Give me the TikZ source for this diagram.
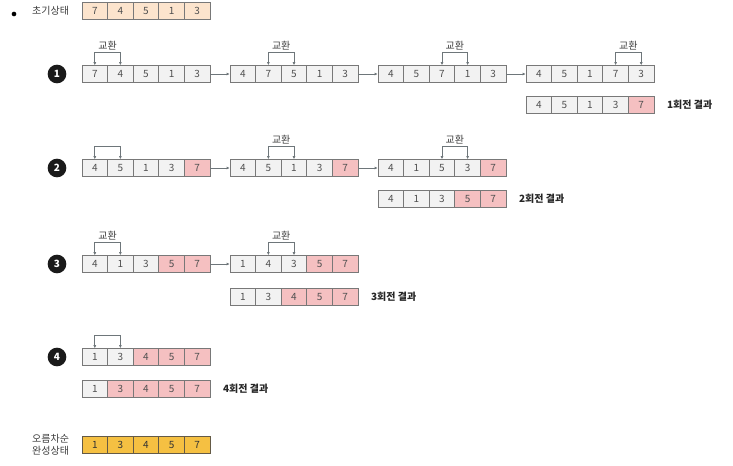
\documentclass[tikz,border=0pt]{standalone}
\usepackage{fontspec}
\setmainfont{Noto Sans CJK KR}
\usetikzlibrary{arrows.meta, positioning}
\definecolor{cellgray}{RGB}{242,242,242}
\definecolor{cellline}{RGB}{120,120,120}
\definecolor{celltext}{RGB}{80,80,80}
\definecolor{hotpink}{RGB}{245,192,193}
\definecolor{initpeach}{RGB}{252,228,205}
\definecolor{donegold}{RGB}{245,192,66}
\definecolor{doneline}{RGB}{100,90,70}
\definecolor{stepdark}{RGB}{26,26,26}
\definecolor{linkgray}{RGB}{110,118,122}
\definecolor{labeltext}{RGB}{60,60,60}
\tikzset{
  cell/.style={rectangle, draw=cellline, fill=cellgray,
    minimum width=19.2pt, minimum height=12.75pt, inner sep=0pt,
    font=\fontsize{7.5}{8}\selectfont, text=celltext, line width=0.5pt},
  hotcell/.style={cell, fill=hotpink},
  initcell/.style={cell, fill=initpeach},
  donecell/.style={cell, fill=donegold, draw=doneline, text=black!80},
  stepnum/.style={circle, fill=stepdark, text=white,
    minimum size=14pt, inner sep=0pt, font=\fontsize{7.5}{8}\selectfont\bfseries},
  bulletdot/.style={circle, fill=black, minimum size=3.5pt, inner sep=0pt},
  swapline/.style={{Latex[length=2.2pt,width=2.2pt]}-{Latex[length=2.2pt,width=2.2pt]},
    draw=linkgray, line width=0.5pt},
  swaplbl/.style={font=\fontsize{7.5}{8}\selectfont, text=labeltext, inner sep=1.5pt},
  link/.style={-{Latex[length=2.2pt,width=2.2pt]}, draw=linkgray, line width=0.5pt},
  resultlbl/.style={font=\fontsize{7.5}{8}\selectfont\bfseries, text=black!85},
  sidelbl/.style={font=\fontsize{7.5}{9}\selectfont, text=labeltext, align=right}
}
% one array of five cells: name, left edge, centre y, value/style list
\newcommand{\cellrow}[4]{%
  \foreach \v/\s [count=\i] in {#4}
    \node[\s] (#1-\i) at ({#2+12.8+(\i-1)*25.6},#3) {\v};}
% swap bracket over two cells, with and without label
\newcommand{\swapmark}[2]{%
  \draw[swapline] (#1.north) -- ++(0,-13) -| node[pos=0.25, above, swaplbl] {교환} (#2.north);}
\newcommand{\swapbare}[2]{%
  \draw[swapline] (#1.north) -- ++(0,-13) -| (#2.north);}

\begin{document}
\begin{tikzpicture}[x=0.75pt, y=-0.75pt]
  \useasboundingbox (0,0) rectangle (733,465);
  % Initial state
  \node[bulletdot] (bullet) at (14,14) {};
  \cellrow{init}{82}{11}{7/initcell,4/initcell,5/initcell,1/initcell,3/initcell}
  \node[sidelbl, left=6pt of init-1] (initlbl) {초기상태};

  % Pass 1
  \node[stepnum] (step1) at (57,74) {1};
  \cellrow{r1a}{82}{74}{7/cell,4/cell,5/cell,1/cell,3/cell}
  \cellrow{r1b}{230}{74}{4/cell,7/cell,5/cell,1/cell,3/cell}
  \cellrow{r1c}{378}{74}{4/cell,5/cell,7/cell,1/cell,3/cell}
  \cellrow{r1d}{526}{74}{4/cell,5/cell,1/cell,7/cell,3/cell}
  \swapmark{r1a-1}{r1a-2}
  \swapmark{r1b-2}{r1b-3}
  \swapmark{r1c-3}{r1c-4}
  \swapmark{r1d-4}{r1d-5}
  \draw[link] (r1a-5.east) -- (r1b-1.west);
  \draw[link] (r1b-5.east) -- (r1c-1.west);
  \draw[link] (r1c-5.east) -- (r1d-1.west);
  \cellrow{r1r}{526}{105}{4/cell,5/cell,1/cell,3/cell,7/hotcell}
  \node[resultlbl, right=6pt of r1r-5] (r1lbl) {1회전 결과};

  % Pass 2
  \node[stepnum] (step2) at (57,168) {2};
  \cellrow{r2a}{82}{168}{4/cell,5/cell,1/cell,3/cell,7/hotcell}
  \cellrow{r2b}{230}{168}{4/cell,5/cell,1/cell,3/cell,7/hotcell}
  \cellrow{r2c}{378}{168}{4/cell,1/cell,5/cell,3/cell,7/hotcell}
  \swapbare{r2a-1}{r2a-2}
  \swapmark{r2b-2}{r2b-3}
  \swapmark{r2c-3}{r2c-4}
  \draw[link] (r2a-5.east) -- (r2b-1.west);
  \draw[link] (r2b-5.east) -- (r2c-1.west);
  \cellrow{r2r}{378}{199}{4/cell,1/cell,3/cell,5/hotcell,7/hotcell}
  \node[resultlbl, right=6pt of r2r-5] (r2lbl) {2회전 결과};

  % Pass 3
  \node[stepnum] (step3) at (57,264) {3};
  \cellrow{r3a}{82}{264}{4/cell,1/cell,3/cell,5/hotcell,7/hotcell}
  \cellrow{r3b}{230}{264}{1/cell,4/cell,3/cell,5/hotcell,7/hotcell}
  \swapmark{r3a-1}{r3a-2}
  \swapmark{r3b-2}{r3b-3}
  \draw[link] (r3a-5.east) -- (r3b-1.west);
  \cellrow{r3r}{230}{297}{1/cell,3/cell,4/hotcell,5/hotcell,7/hotcell}
  \node[resultlbl, right=6pt of r3r-5] (r3lbl) {3회전 결과};

  % Pass 4
  \node[stepnum] (step4) at (57,357) {4};
  \cellrow{r4a}{82}{357}{1/cell,3/cell,4/hotcell,5/hotcell,7/hotcell}
  \swapbare{r4a-1}{r4a-2}
  \cellrow{r4r}{82}{389}{1/cell,3/hotcell,4/hotcell,5/hotcell,7/hotcell}
  \node[resultlbl, right=6pt of r4r-5] (r4lbl) {4회전 결과};

  % Sorted
  \cellrow{done}{82}{445}{1/donecell,3/donecell,4/donecell,5/donecell,7/donecell}
  \node[sidelbl, left=6pt of done-1] (donelbl) {오름차순\\완성상태};
\end{tikzpicture}
\end{document}
